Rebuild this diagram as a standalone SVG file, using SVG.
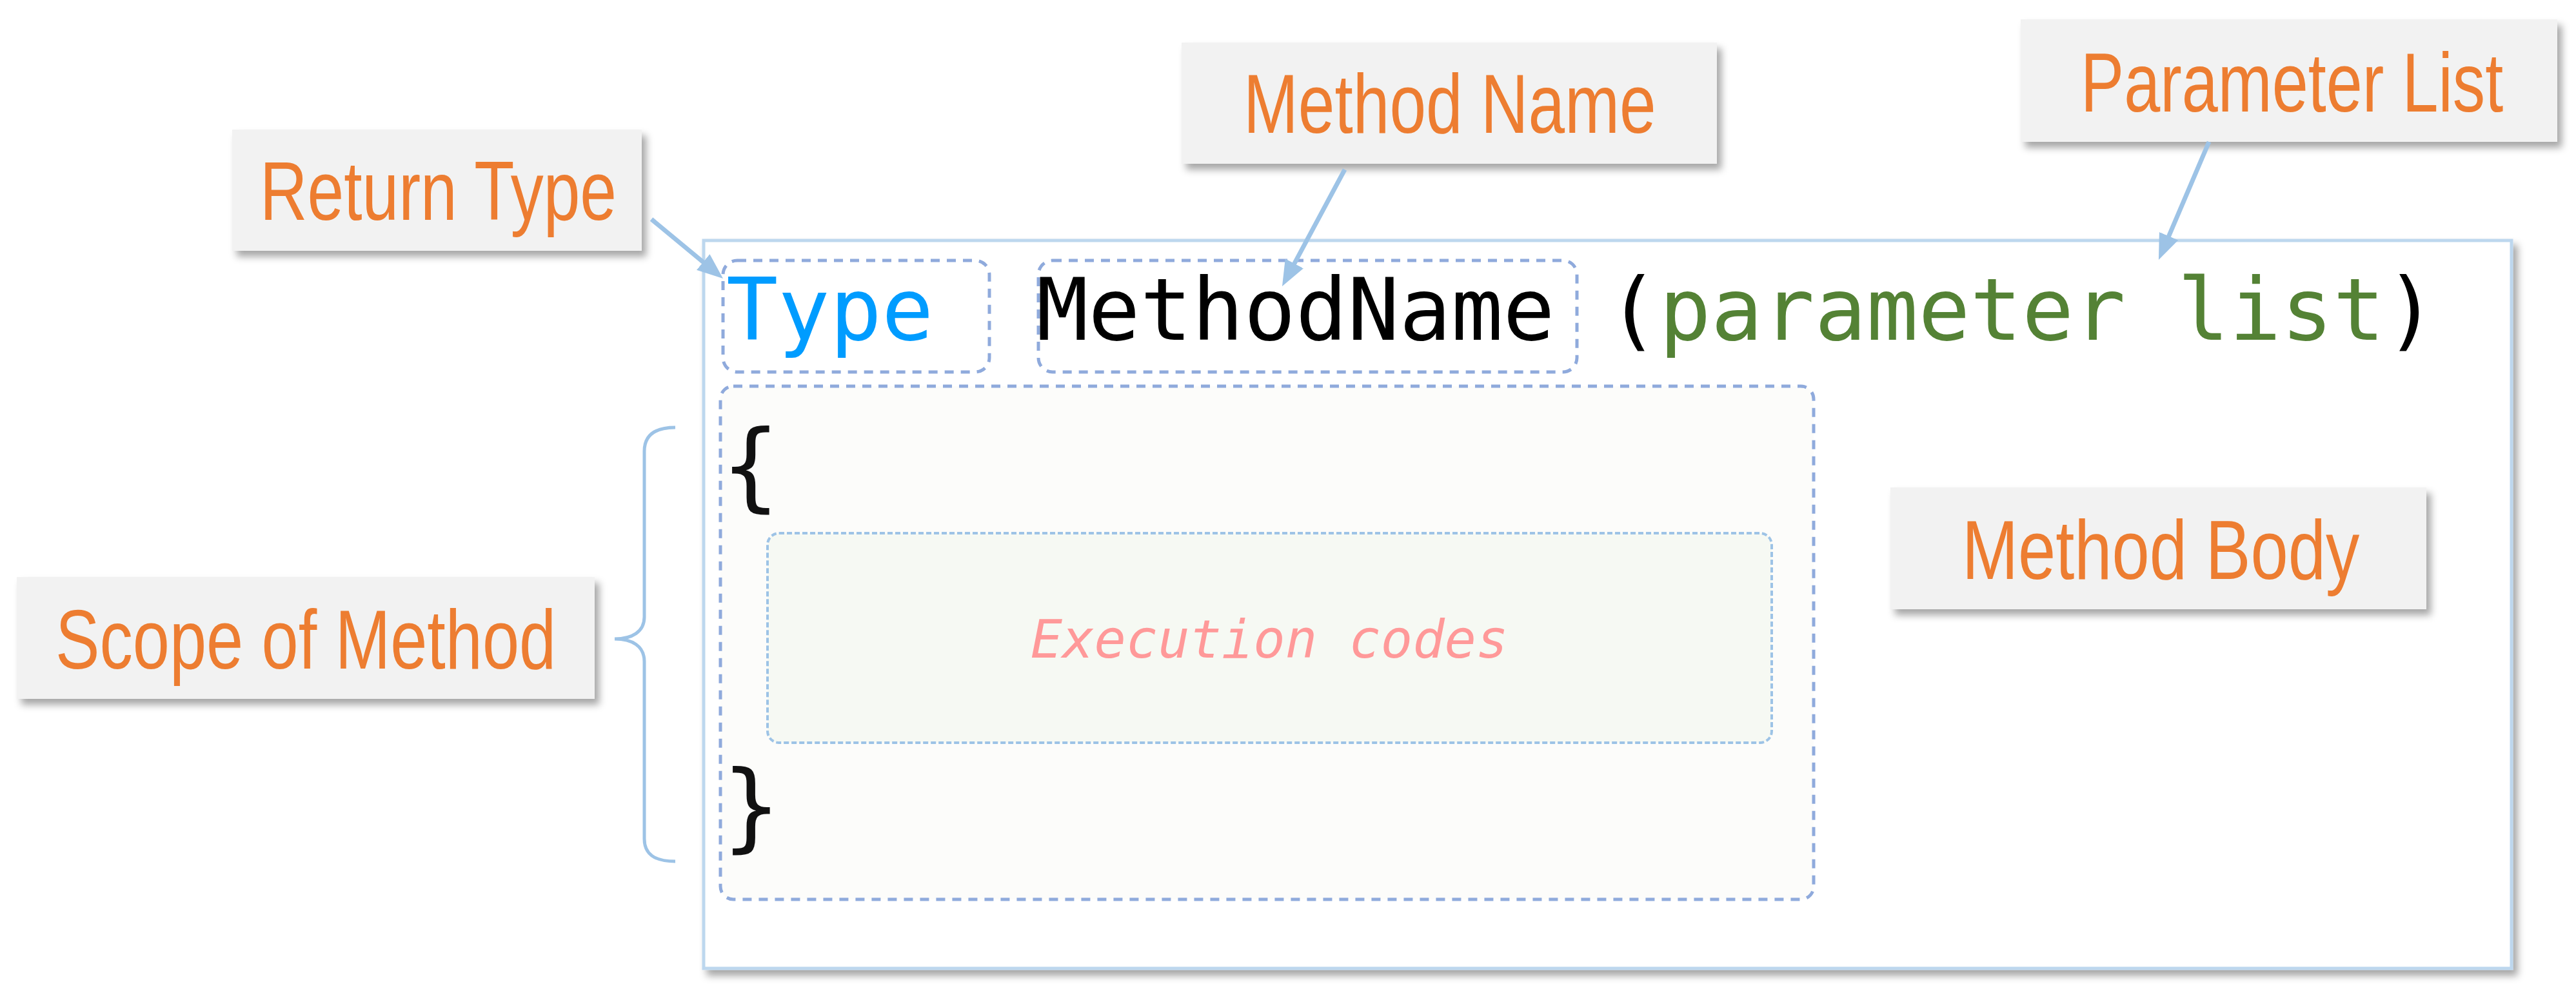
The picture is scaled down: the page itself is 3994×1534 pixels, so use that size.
<svg xmlns="http://www.w3.org/2000/svg" width="3994" height="1534" viewBox="0 0 3994 1534">
<defs>
<style>
.label{fill:#F2F2F2;filter:url(#sh)}
.lt{font-family:"Liberation Sans",Arial,sans-serif;font-size:129px;fill:#ED7D31}
.code{font-family:"DejaVu Sans Mono","Liberation Mono",monospace;font-size:133.5px;white-space:pre}
.dash{fill:none;stroke:#8FAADC;stroke-width:5;stroke-dasharray:14 11}
.conn{fill:none;stroke:#9DC3E6;stroke-width:7}
</style>
<filter id="sh" x="-10%" y="-10%" width="130%" height="140%">
<feDropShadow dx="7" dy="9" stdDeviation="6" flood-color="#000" flood-opacity="0.35"/>
</filter>
<marker id="ah" viewBox="0 0 40 32" markerWidth="40" markerHeight="32" refX="8" refY="16" orient="auto" markerUnits="userSpaceOnUse">
<path d="M0,0 L40,16 L0,32 z" fill="#9DC3E6"/>
</marker>
</defs>
<rect width="3994" height="1534" fill="#FFFFFF"/>

<g id="method-frame">
<rect x="1091" y="373" width="2803" height="1129" fill="#FFFFFF" stroke="#BDD7EE" stroke-width="5" filter="url(#sh)"/>
</g>

<g id="method-body-area">
<rect x="1117" y="599" width="1695" height="796" rx="20" fill="#FCFCFA" stroke="none"/>
<rect x="1117" y="599" width="1695" height="796" rx="20" class="dash"/>
</g>

<g id="type-box">
<rect x="1121" y="404" width="413" height="173" rx="22" class="dash"/>
<text x="1126" y="527" class="code" fill="#009CFF">Type</text>
</g>

<g id="methodname-box">
<rect x="1610" y="404" width="835" height="173" rx="22" class="dash"/>
<text x="1607" y="527" class="code" fill="#000000">MethodName</text>
</g>

<g id="parameter-text">
<text x="2492" y="527" class="code" xml:space="preserve"><tspan fill="#000000">(</tspan><tspan fill="#548235">parameter list</tspan><tspan fill="#000000">)</tspan></text>
</g>

<g id="braces">
<text x="1119" y="774" class="code" style="font-size:149px" fill="#111111">{</text>
<text x="1120" y="1302" class="code" style="font-size:149px" fill="#111111">}</text>
</g>

<g id="execution-codes">
<rect x="1190" y="827" width="1557" height="325" rx="18" fill="#F6F9F3" stroke="#9DC3E6" stroke-width="4" stroke-dasharray="8 4"/>
<text x="1968" y="1020" text-anchor="middle" font-family="'DejaVu Sans Mono','Liberation Mono',monospace" font-style="italic" font-size="82" fill="#FF9999">Execution codes</text>
</g>

<g id="return-type-label">
<rect x="360" y="201" width="635" height="188" class="label"/>
<text transform="translate(403,341) scale(0.78,1)" class="lt" textLength="709" lengthAdjust="spacingAndGlyphs">Return Type</text>
</g>

<g id="method-name-label">
<rect x="1832" y="66" width="830" height="188" class="label"/>
<text transform="translate(1928,206) scale(0.78,1)" class="lt" textLength="820" lengthAdjust="spacingAndGlyphs">Method Name</text>
</g>

<g id="parameter-list-label">
<rect x="3133" y="30" width="832" height="190" class="label"/>
<text transform="translate(3226,173) scale(0.78,1)" class="lt" textLength="840" lengthAdjust="spacingAndGlyphs">Parameter List</text>
</g>

<g id="method-body-label">
<rect x="2931" y="756" width="831" height="189" class="label"/>
<text transform="translate(3042,898) scale(0.78,1)" class="lt" textLength="790" lengthAdjust="spacingAndGlyphs">Method Body</text>
</g>

<g id="scope-label">
<rect x="26" y="895" width="896" height="189" class="label"/>
<text transform="translate(86,1037) scale(0.78,1)" class="lt" textLength="995" lengthAdjust="spacingAndGlyphs">Scope of Method</text>
</g>

<g id="connectors">
<line x1="1010" y1="340" x2="1096.4" y2="411.6" class="conn" marker-end="url(#ah)"/>
<line x1="2085" y1="263" x2="2003.1" y2="415.8" class="conn" marker-end="url(#ah)"/>
<line x1="3425" y1="220" x2="3359.5" y2="373.6" class="conn" marker-end="url(#ah)"/>
<path d="M1047,663 C1015,663 999,675 999,700 L999,957 C999,980 980,991 953,991 C980,991 999,1002 999,1026 L999,1301 C999,1325 1015,1336 1047,1336" fill="none" stroke="#9DC3E6" stroke-width="5"/>
</g>
</svg>
